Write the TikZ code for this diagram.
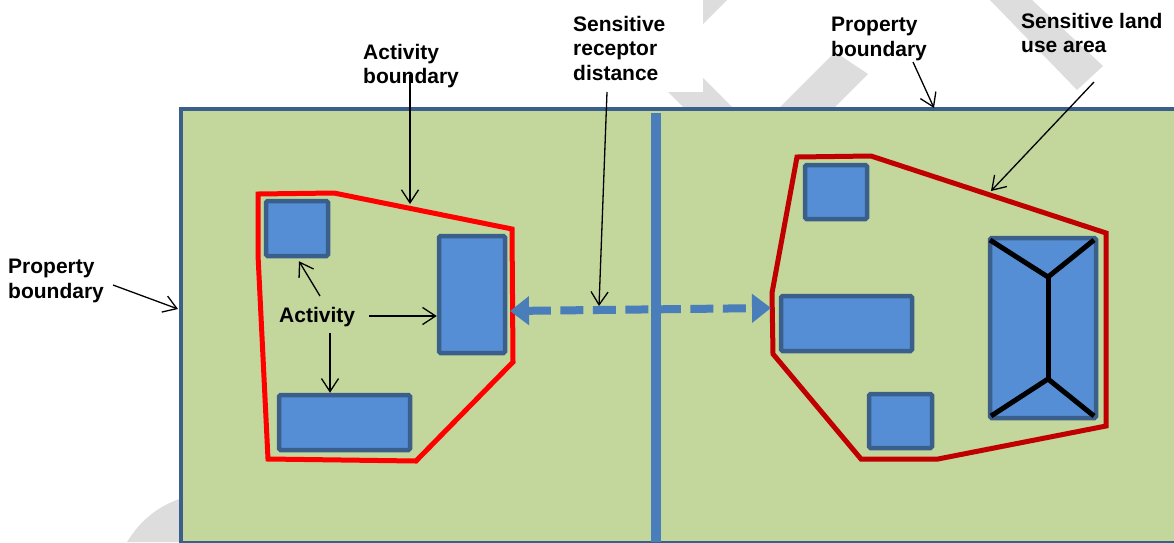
\documentclass[tikz,border=0pt]{standalone}
\usepackage{fontspec}
\setmainfont{Liberation Sans}
\usetikzlibrary{arrows.meta,calc}
\definecolor{fieldgreen}{HTML}{C3D69B}
\definecolor{edgeblue}{HTML}{3A5F8B}
\definecolor{boxblue}{HTML}{558ED5}
\definecolor{lineblue}{HTML}{4A7EBB}
\definecolor{wmgrey}{HTML}{DDDDDD}
\definecolor{darkred}{HTML}{C00000}
\definecolor{brightred}{HTML}{FF0000}
\begin{document}
\begin{tikzpicture}[x=1pt,y=-1pt,
  site/.style={draw=edgeblue,line width=4.5pt,fill=boxblue,rounded corners=1.5pt,inner sep=0pt},
  lbl/.style={font=\bfseries\fontsize{21}{24.5}\selectfont,align=left,anchor=north west,inner sep=0pt},
  ptr/.style={line width=1.3pt,-{Straight Barb[length=13pt,width=17pt,line width=1.3pt]}},
  dashline/.style={lineblue,line width=8pt,dash pattern=on 23pt off 9.5pt,
     {Triangle[length=19pt,width=28pt]}-{Triangle[length=19pt,width=28pt]}},
  boundleft/.style={brightred,line width=5pt,line join=miter},
  boundright/.style={darkred,line width=5pt,line join=miter},
  ridge/.style={black,line width=5pt}]
\useasboundingbox (0,0) rectangle (1174,542);
\clip (0,0) rectangle (1174,542);
% watermark shapes
\fill[wmgrey] (576,0) -- (625,0) -- (738,113) -- (689,113) -- cycle;
\fill[wmgrey] (703,0) -- (727,0) -- (680,47) -- (656,47) -- cycle;
\fill[wmgrey] (777,110) -- (835,52) -- (868,74) -- (832,110) -- cycle;
\fill[wmgrey] (990,0) -- (1032,0) -- (1103,66) -- (1077,90) -- cycle;
\fill[wmgrey] (127,542) .. controls (142,518) and (160,505) .. (185,497) -- (185,542) -- cycle;
\fill[white] (565,0) rectangle (703,92);
% property
\draw[edgeblue,line width=4pt,fill=fieldgreen] (181,109) rectangle (1200,542.5);
\draw[lineblue,line width=10pt] (656,113) -- (656,542);
% activity boundary
\draw[boundleft] (258,194) -- (334,193) -- (512,229) -- (513,362) -- (416,461) -- (268,459) -- (258,255) -- cycle;
\coordinate (abedge) at (410,204);
% sensitive land use boundary
\draw[boundright] (797,157) -- (871,156) -- (1106,233) -- (1106,426) -- (938,459) -- (861,459) -- (773,354) -- (772,293) -- cycle;
\coordinate (sledge) at (991,191);
% boxes
\node[site,minimum width=62pt,minimum height=55pt] (b1) at (297,228.5) {};
\node[site,minimum width=66pt,minimum height=117pt] (b2) at (472,294.5) {};
\node[site,minimum width=131pt,minimum height=55pt] (b3) at (344.5,422.5) {};
\node[site,minimum width=62pt,minimum height=54pt] (ba) at (836,192) {};
\node[site,minimum width=131pt,minimum height=55pt] (bb) at (846.5,323.5) {};
\node[site,minimum width=63pt,minimum height=54pt] (bc) at (900.5,421) {};
\node[site,minimum width=106pt,minimum height=180pt] (bd) at (1043,328) {};
% ridge lines
\coordinate (rtl) at (990,240);
\coordinate (rtr) at (1094,240);
\coordinate (rft) at (1048,277);
\coordinate (rfb) at (1048,379);
\coordinate (rbl) at (991,416);
\coordinate (rbr) at (1094,416);
\draw[ridge] (rtl) -- (rft) -- (rtr);
\draw[ridge] (rft) -- (rfb);
\draw[ridge] (rbl) -- (rfb) -- (rbr);
% distance arrow
\coordinate (dl) at (510,311);
\coordinate (dr) at (771,308);
\draw[dashline] (dl) -- (dr);
% labels
\node[lbl] (lab) at (363,44) {Activity\\boundary};
\node[lbl] (lsr) at (573,16) {Sensitive\\receptor\\distance};
\node[lbl] (lpt) at (831,17) {Property\\boundary};
\node[lbl] (lsl) at (1021,13) {Sensitive land\\use area};
\node[lbl] (lpl) at (8,259) {Property\\boundary};
\node[lbl] (lact) at (279,307) {Activity};
% pointers
\coordinate (pab) at (410,75);
\coordinate (psr) at (607,92);
\coordinate (psrend) at (599,306);
\coordinate (ppt) at (913,62);
\coordinate (pptend) at (934,108);
\coordinate (psl) at (1094,82);
\coordinate (ppl) at (113,285);
\coordinate (pplend) at (178,309);
\coordinate (pa1) at (320,296);
\coordinate (pa2) at (369,316);
\coordinate (pa3) at (330,333);
\draw[ptr] (pab) -- (abedge);
\draw[ptr] (psr) -- (psrend);
\draw[ptr] (ppt) -- (pptend);
\draw[ptr] (psl) -- (sledge);
\draw[ptr] (ppl) -- (pplend);
\draw[ptr] (pa1) -- ($(b1.south)+(2,3)$);
\draw[ptr] (pa2) -- (pa2 -| b2.west);
\draw[ptr] (pa3) -- (pa3 |- b3.north);
\end{tikzpicture}
\end{document}
